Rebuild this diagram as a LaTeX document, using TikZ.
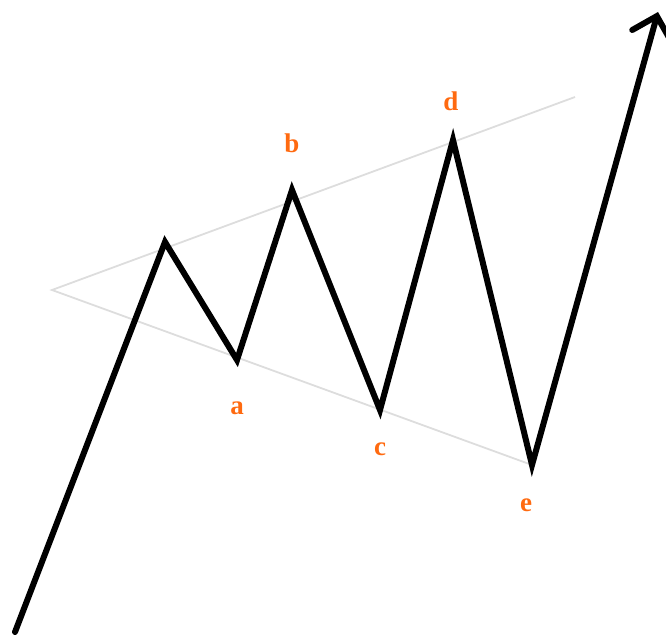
\documentclass[tikz,border=0pt]{standalone}
\usepackage{fontspec}
\setmainfont{Liberation Serif}
\usetikzlibrary{arrows.meta}
\definecolor{lbl}{HTML}{FF6A10}
\definecolor{trend}{HTML}{DDDDDD}
\tikzset{
  wave/.style={line width=6pt, black, line join=miter, line cap=round},
  trendline/.style={line width=1.8pt, trend},
  lab/.style={text=lbl, font=\fontsize{27}{30}\selectfont\bfseries, inner sep=0pt}
}
\begin{document}
\begin{tikzpicture}[x=1pt,y=-1pt]
\useasboundingbox (0,0) rectangle (666,639);
\coordinate (s) at (15,632);
\coordinate (p) at (165,242);
\coordinate (a) at (237,360);
\coordinate (b) at (292,190);
\coordinate (c) at (380,410);
\coordinate (d) at (453,140);
\coordinate (e) at (532,465);
\coordinate (t) at (658,12);
\coordinate (apex) at (52,290);
\coordinate (up) at (575,97);
\draw[trendline] (up) -- (apex) -- (e);
\draw[wave, -{Straight Barb[length=20pt,width=40pt,line cap=round]}] (s) -- (p) -- (a) -- (b) -- (c) -- (d) -- (e) -- (t);
\node[lab] (la) at (237,408) {a};
\node[lab] (lb) at (292,143) {b};
\node[lab] (lc) at (380,449) {c};
\node[lab] (ld) at (451,101) {d};
\node[lab] (le) at (526,505) {e};
\end{tikzpicture}
\end{document}
